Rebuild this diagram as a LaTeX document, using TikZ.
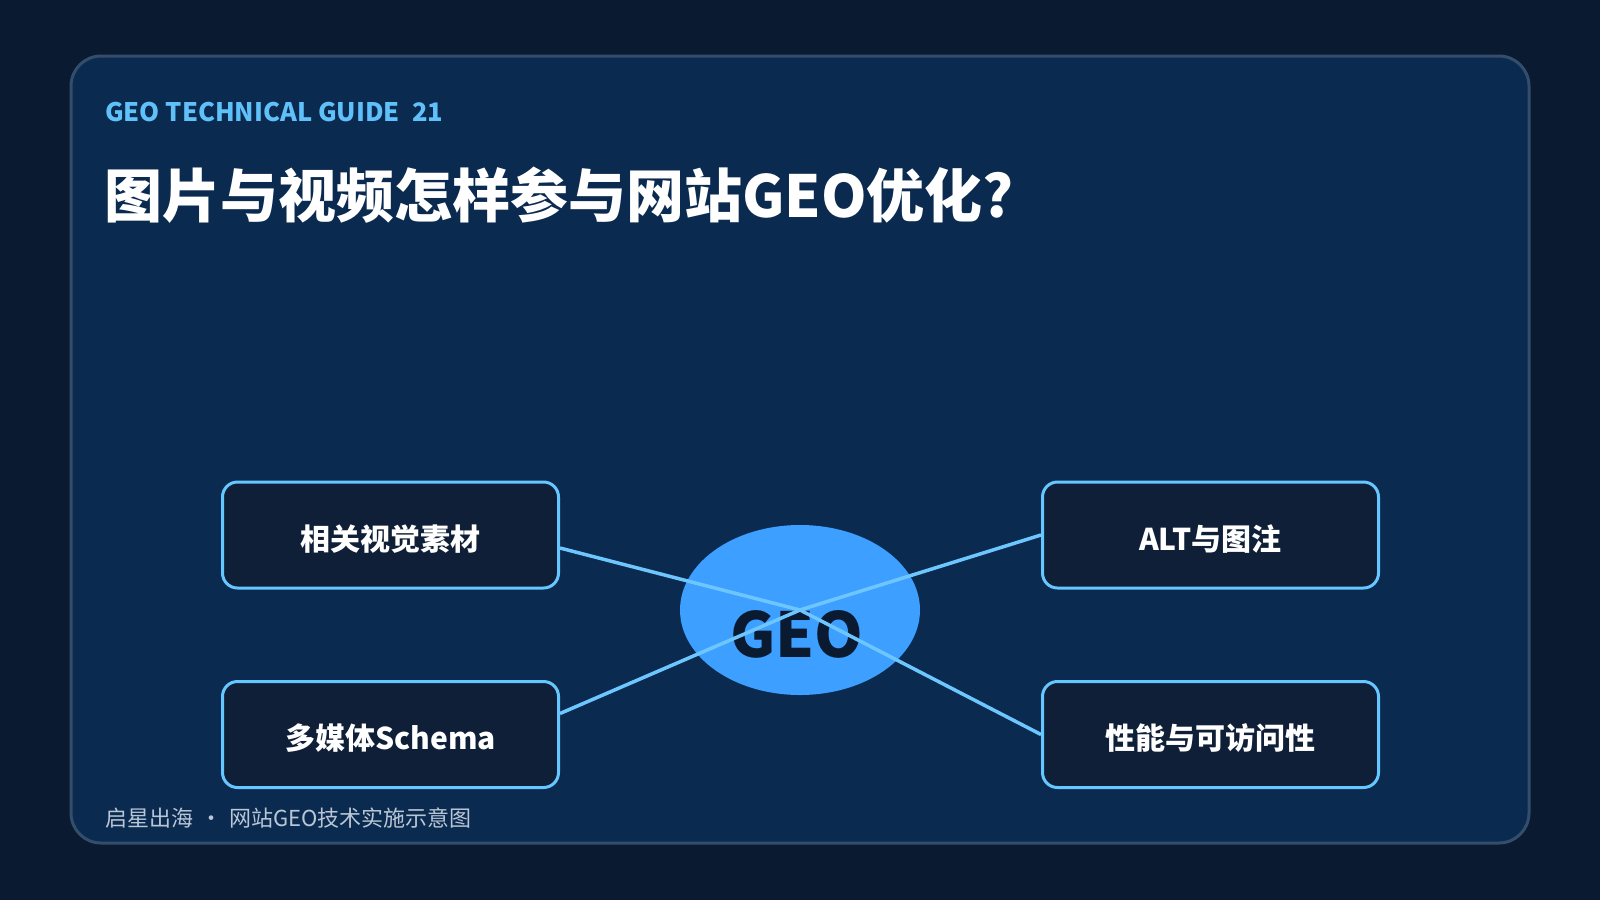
\documentclass[tikz,border=0pt]{standalone}
\usepackage{fontspec}
\setmainfont{Noto Sans CJK SC}
\usetikzlibrary{shapes.geometric}
\definecolor{pagebg}{HTML}{0A1A30}
\definecolor{cardfill}{HTML}{0B2A4F}
\definecolor{cardline}{HTML}{324E6C}
\definecolor{boxfill}{HTML}{0E1F37}
\definecolor{boxline}{HTML}{66C6FF}
\definecolor{hubfill}{HTML}{3D9FFF}
\definecolor{linkc}{HTML}{6EC6FF}
\definecolor{guidec}{HTML}{5FC0FA}
\definecolor{footc}{HTML}{B9C6D6}

\begin{document}
\begin{tikzpicture}[x=1pt, y=-1pt,
    bx/.style={draw=boxline, line width=3pt, fill=boxfill, rounded corners=15pt, minimum width=336pt, minimum height=106pt, text=white, text height=31pt, text depth=1pt, font=\fontsize{30}{36}\selectfont\bfseries},
    hub/.style={ellipse, fill=hubfill, minimum width=240pt, minimum height=170pt, inner sep=0pt},
    ln/.style={draw=linkc, line width=3.5pt}]
    \path[use as bounding box, fill=pagebg] (0,0) rectangle (1600,900);
    \draw[cardline, fill=cardfill, line width=3pt, rounded corners=30pt] (71,56) rectangle (1529,843);

    % heading and footer
    \node[anchor=base west, inner sep=0pt, text=guidec, font=\fontsize{25.5}{32}\selectfont\bfseries] (guide) at (105,121) {GEO TECHNICAL GUIDE\hspace{12pt}21};
    \node[anchor=base west, inner sep=0pt, text=white, font=\fontsize{58}{70}\selectfont\bfseries] (title) at (104,217) {图片与视频怎样参与网站GEO优化?};
    \node[anchor=base west, inner sep=0pt, text=footc, font=\fontsize{22}{26}\selectfont] (foot) at (105,826) {启星出海\hspace{7pt}•\hspace{7pt}网站GEO技术实施示意图};

    % hub
    \node[hub] (geo) at (800,610) {};
    \node[anchor=base, inner sep=0pt, text=pagebg, font=\fontsize{62}{70}\selectfont\bfseries] (geol) at (797,657) {GEO};

    % boxes
    \draw (390.5,535) node[bx] (vis) {相关视觉素材}
    ++(0,199.5) node[bx] (sch) {多媒体Schema}
    ++(820,0) node[bx] (perf) {性能与可访问性}
    ++(0,-199.5) node[bx] (alt) {ALT与图注};

    \draw[ln] ([yshift=-13pt]vis.east) -- (geo.center);
    \draw[ln] ([yshift=21pt]sch.east) -- (geo.center);
    \draw[ln] (alt.west) -- (geo.center);
    \draw[ln] (perf.west) -- (geo.center);
\end{tikzpicture}
\end{document}
